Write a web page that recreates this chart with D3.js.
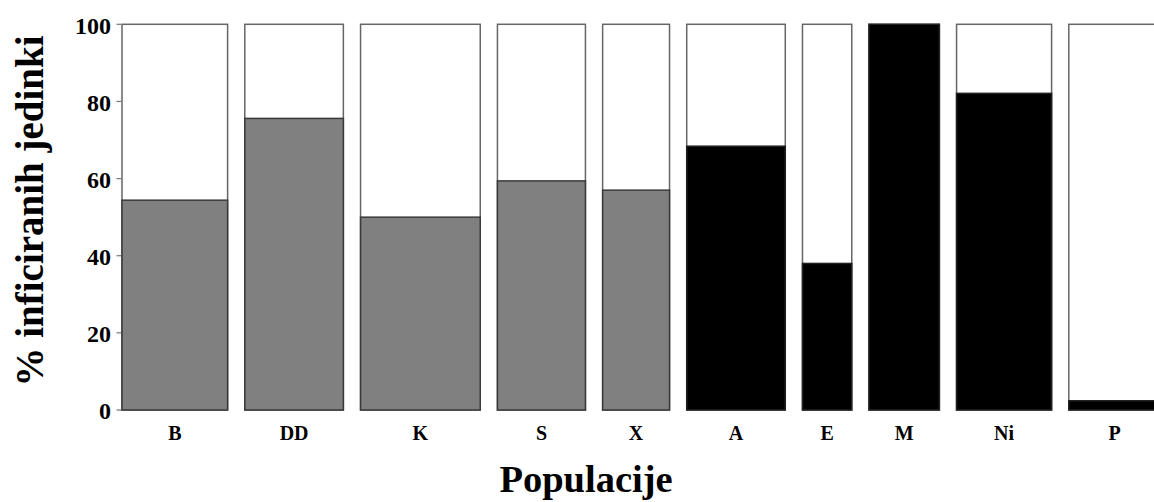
<!DOCTYPE html>
<html>
<head>
<meta charset="utf-8">
<script src="https://cdn.jsdelivr.net/npm/d3@7"></script>
<style>
  html, body { margin: 0; padding: 0; background: #fff; }
  svg { display: block; }
  text { font-family: "Liberation Serif", "Times New Roman", serif; font-weight: bold; fill: #000; }
</style>
</head>
<body>
<svg id="chart" width="1154" height="502"></svg>
<script>
// ---- data ----
const populations = ["B", "DD", "K", "S", "X", "A", "E", "M", "Ni", "P"];
const infectedPct = [54.4, 75.6, 50, 59.4, 57, 68.4, 38, 100, 82.1, 2.4];
const sampleSize  = [30, 28, 34, 25, 19, 28, 14, 20, 27, 26];
const groups      = ["g1", "g1", "g1", "g1", "g1", "g2", "g2", "g2", "g2", "g2"];
const yTicks      = [0, 20, 40, 60, 80, 100];
const yTitle = "% inficiranih jedinki";
const xTitle = "Populacije";

// ---- layout ----
const svg = d3.select("#chart");
const left = 122, gap = 17.2, y0px = 410, y100px = 24.3;
const total = d3.sum(sampleSize);
const pxPerUnit = 3.52;
const x = d3.scaleLinear().domain([0, total]).range([0, total * pxPerUnit]);
const y = d3.scaleLinear().domain([0, 100]).range([y0px, y100px]);
const fillColor = d3.scaleOrdinal().domain(["g1", "g2"]).range(["#808080", "#000000"]);

let cum = 0;
const bars = populations.map((p, i) => {
  const x0 = left + x(cum) + i * gap;
  const w = x(sampleSize[i]);
  cum += sampleSize[i];
  return { name: p, value: infectedPct[i], group: groups[i], x0, w };
});

// y axis ticks
const yAxis = svg.append("g");
yTicks.forEach(t => {
  yAxis.append("line")
    .attr("x1", 116.5).attr("x2", 121)
    .attr("y1", y(t)).attr("y2", y(t))
    .attr("stroke", "#777").attr("stroke-width", 1.2);
  yAxis.append("text")
    .attr("x", 111).attr("y", y(t))
    .attr("text-anchor", "end")
    .attr("dominant-baseline", "central")
    .attr("dy", "0.05em")
    .style("font-size", "24px")
    .text(t);
});

// bars
const g = svg.append("g");
bars.forEach(b => {
  // empty (non-infected) part
  g.append("rect")
    .attr("x", b.x0).attr("y", y(100))
    .attr("width", b.w).attr("height", y(0) - y(100))
    .attr("fill", "#fff")
    .attr("stroke", "#666").attr("stroke-width", 1.5);
  // infected part
  g.append("rect")
    .attr("x", b.x0).attr("y", y(b.value))
    .attr("width", b.w).attr("height", y(0) - y(b.value))
    .attr("fill", fillColor(b.group))
    .attr("stroke", b.group === "g1" ? "#3a3a3a" : "#222").attr("stroke-width", 1.5);
  // category label
  svg.append("text")
    .attr("x", b.x0 + b.w / 2).attr("y", 440)
    .attr("text-anchor", "middle")
    .style("font-size", "20px")
    .text(b.name);
});

// titles
svg.append("text")
  .attr("transform", "translate(43,211) rotate(-90)")
  .attr("text-anchor", "middle")
  .style("font-size", "39px")
  .text(yTitle);

svg.append("text")
  .attr("x", 586).attr("y", 492)
  .attr("text-anchor", "middle")
  .style("font-size", "38.5px")
  .text(xTitle);
</script>
</body>
</html>
